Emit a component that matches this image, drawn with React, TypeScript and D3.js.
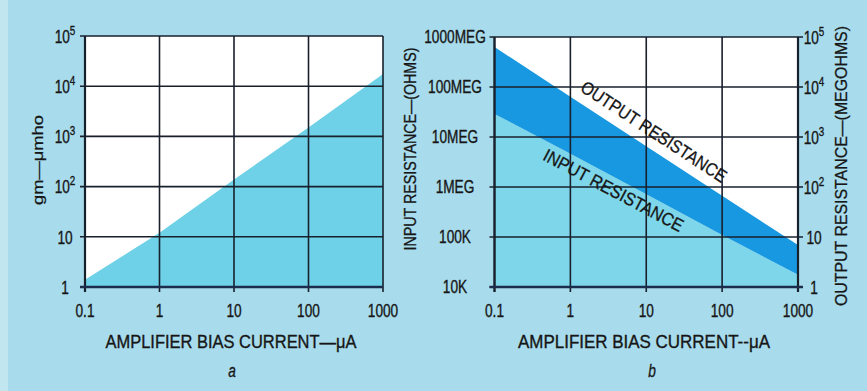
import React from 'react';
import * as d3 from 'd3';

// ---- data ----
const biasCurrent = [0.1, 1, 10, 100, 1000];
const gmValues = [1.4, 12, 138, 1500, 17400];
const outputResMeg = [63000, 6400, 650, 67, 6.9];
const inputResOhms = [2.9e7, 4.6e6, 7.2e5, 1.1e5, 1.75e4];

const xTicks = [0.1, 1, 10, 100, 1000];
const xTickLabels = ['0.1', '1', '10', '100', '1000'];
const gmTicks = [1, 10, 100, 1e3, 1e4, 1e5];
const gmTickLabels: [string, string][] = [['1', ''], ['10', ''], ['10', '2'], ['10', '3'], ['10', '4'], ['10', '5']];
const inTicks = [1e4, 1e5, 1e6, 1e7, 1e8, 1e9];
const inTickLabels = ['10K', '100K', '1MEG', '10MEG', '100MEG', '1000MEG'];
const outTicks = [1, 10, 100, 1e3, 1e4, 1e5];
const outTickLabels: [string, string][] = [['1', ''], ['10', ''], ['10', '2'], ['10', '3'], ['10', '4'], ['10', '5']];

const W = 867, H = 391;
const BG = '#a8dcec';
const FILL_A = '#6fd1e7';
const FILL_LIGHT = '#7dd6ea';
const FILL_DARK = '#1798e0';
const GRID = '#18202c';
const TXT = '#161616';
const FONT = '"Liberation Sans", Arial, Helvetica, sans-serif';
const SX = 0.76;
const TS = 0.35; // slight stroke to mimic printed weight

const CText = ({ x, y, size = 18, anchor = 'middle', italic = false, children }: any) => (
  <text transform={`translate(${x},${y}) scale(${SX},1)`} textAnchor={anchor} dominantBaseline="central"
    fontSize={size} fontStyle={italic ? 'italic' : 'normal'} fill={TXT} stroke={TXT} strokeWidth={TS} fontFamily={FONT}>
    {children}
  </text>
);

const Sup = ({ x, y, base, sup }: any) => (
  <CText x={x} y={y}>
    <tspan>{base}</tspan>
    {sup ? <tspan dy={-6} fontSize={13}>{sup}</tspan> : null}
  </CText>
);

export default function App() {
  // chart a
  const xA = d3.scaleLog().domain([0.1, 1000]).range([85, 383]);
  const yA = d3.scaleLog().domain([1, 1e5]).range([287, 36]);
  // chart b
  const xB = d3.scaleLog().domain([0.1, 1000]).range([494.5, 798]);
  const yIn = d3.scaleLog().domain([1e4, 1e9]).range([287, 37]);
  const yOut = d3.scaleLog().domain([1, 1e5]).range([287, 37]);

  const areaA = d3.area<number>()
    .x((d, i) => xA(biasCurrent[i]))
    .y0(() => yA(1))
    .y1((d) => yA(d))(gmValues) as string;

  const areaLight = d3.area<number>()
    .x((d, i) => xB(biasCurrent[i]))
    .y0(() => yIn(1e4))
    .y1((d) => yIn(d))(inputResOhms) as string;

  const areaDark = d3.area<number>()
    .x((d, i) => xB(biasCurrent[i]))
    .y0((d, i) => yIn(inputResOhms[i]))
    .y1((d) => yOut(d))(outputResMeg) as string;

  // labels along lines
  const n = biasCurrent.length - 1;
  const outP0 = [xB(biasCurrent[0]), yOut(outputResMeg[0])];
  const outP1 = [xB(biasCurrent[n]), yOut(outputResMeg[n])];
  const outAng = Math.atan2(outP1[1] - outP0[1], outP1[0] - outP0[0]);
  const inP0 = [xB(biasCurrent[0]), yIn(inputResOhms[0])];
  const inP1 = [xB(biasCurrent[n]), yIn(inputResOhms[n])];
  const inAng = Math.atan2(inP1[1] - inP0[1], inP1[0] - inP0[0]);

  const outLabelX = 645;
  const outLineY = outP0[1] + (outLabelX - outP0[0]) * Math.tan(outAng);
  const inLabelX = 619;
  const inLineY = inP0[1] + (inLabelX - inP0[0]) * Math.tan(inAng);
  const outCx = outLabelX + 16 * Math.sin(outAng);
  const outCy = outLineY - 16 * Math.cos(outAng);
  const inCx = inLabelX - 12 * Math.sin(inAng);
  const inCy = inLineY + 12 * Math.cos(inAng);

  const [a0, a1] = xA.range();
  const [aB, aT] = yA.range();
  const [b0, b1] = xB.range();
  const [bB, bT] = yIn.range();

  return (
    <svg width={W} height={H} style={{ position: 'absolute', left: 0, top: 0 }} fontFamily={FONT}>
      <rect x={0} y={0} width={W} height={H} fill={BG} />
      <rect x={0} y={0} width={8} height={H} fill="#c2e6f0" />

      {/* ---------- chart a ---------- */}
      <rect x={a0} y={aT} width={a1 - a0} height={aB - aT} fill="#ffffff" />
      <path d={areaA} fill={FILL_A} />
      {gmTicks.map((t, i) => (
        <line key={'ah' + i} x1={a0 - 5} x2={a1} y1={yA(t)} y2={yA(t)} stroke={GRID} strokeWidth={1.6} />
      ))}
      {xTicks.map((t, i) => (
        <line key={'av' + i} x1={xA(t)} x2={xA(t)} y1={aT} y2={aB + 5} stroke={GRID} strokeWidth={1.6} />
      ))}
      <line x1={a0} x2={a0} y1={aT} y2={aB + 5} stroke={GRID} strokeWidth={2.2} />
      <line x1={a0 - 5} x2={a1} y1={aB} y2={aB} stroke="#1c2c4c" strokeWidth={2.4} />
      {gmTicks.map((t, i) => (
        <Sup key={'al' + i} x={65} y={yA(t)} base={gmTickLabels[i][0]} sup={gmTickLabels[i][1]} />
      ))}
      {xTicks.map((t, i) => (
        <CText key={'ax' + i} x={xA(t)} y={311}>{xTickLabels[i]}</CText>
      ))}
      <text x={231} y={342} textAnchor="middle" dominantBaseline="central" fontSize={18} fill={TXT} stroke={TXT} strokeWidth={TS}
        textLength={251} lengthAdjust="spacingAndGlyphs">AMPLIFIER BIAS CURRENT—μA</text>
      <CText x={232} y={371} italic>a</CText>
      <text transform={`translate(37,160) rotate(-90)`} textAnchor="middle" dominantBaseline="central" fontSize={15} fill={TXT}
        stroke={TXT} strokeWidth={0.25} textLength={90} lengthAdjust="spacingAndGlyphs">gm—μmho</text>

      {/* ---------- chart b ---------- */}
      <rect x={b0} y={bT} width={b1 - b0} height={bB - bT} fill="#ffffff" />
      <path d={areaLight} fill={FILL_LIGHT} />
      <path d={areaDark} fill={FILL_DARK} />
      {inTicks.map((t, i) => (
        <line key={'bh' + i} x1={b0 - 5} x2={b1 + 5} y1={yIn(t)} y2={yIn(t)} stroke={GRID} strokeWidth={1.6} />
      ))}
      {xTicks.map((t, i) => (
        <line key={'bv' + i} x1={xB(t)} x2={xB(t)} y1={bT} y2={bB + 5} stroke={GRID} strokeWidth={1.6} />
      ))}
      <line x1={b0} x2={b0} y1={bT} y2={bB + 5} stroke={GRID} strokeWidth={2.2} />
      <line x1={b1} x2={b1} y1={bT} y2={bB + 5} stroke={GRID} strokeWidth={2.2} />
      <line x1={b0 - 5} x2={b1 + 5} y1={bB} y2={bB} stroke="#1c2c4c" strokeWidth={2.4} />
      {inTicks.map((t, i) => (
        <CText key={'bl' + i} x={455} y={yIn(t)}>{inTickLabels[i]}</CText>
      ))}
      {outTicks.map((t, i) => (
        <Sup key={'br' + i} x={814} y={yOut(t)} base={outTickLabels[i][0]} sup={outTickLabels[i][1]} />
      ))}
      {xTicks.map((t, i) => (
        <CText key={'bx' + i} x={xB(t)} y={311}>{xTickLabels[i]}</CText>
      ))}
      <text x={644} y={342} textAnchor="middle" dominantBaseline="central" fontSize={18} fill={TXT} stroke={TXT} strokeWidth={TS}
        textLength={252} lengthAdjust="spacingAndGlyphs">AMPLIFIER BIAS CURRENT--μA</text>
      <CText x={652} y={371} italic>b</CText>
      <text transform={`translate(410,149) rotate(-90)`} textAnchor="middle" dominantBaseline="central" fontSize={16} fill={TXT}
        stroke={TXT} strokeWidth={0.3} textLength={203} lengthAdjust="spacingAndGlyphs">INPUT RESISTANCE—(OHMS)</text>
      <text transform={`translate(841,166) rotate(-90)`} textAnchor="middle" dominantBaseline="central" fontSize={17} fill={TXT}
        stroke={TXT} strokeWidth={0.3} textLength={280} lengthAdjust="spacingAndGlyphs">OUTPUT RESISTANCE—(MEGOHMS)</text>

      <text transform={`translate(${outCx},${outCy}) rotate(${(outAng * 180) / Math.PI})`} textAnchor="middle"
        dominantBaseline="central" fontSize={18} fill={TXT} stroke={TXT} strokeWidth={0.3} textLength={170} lengthAdjust="spacingAndGlyphs">
        OUTPUT RESISTANCE
      </text>
      <text transform={`translate(${inCx},${inCy}) rotate(${(inAng * 180) / Math.PI})`} textAnchor="middle"
        dominantBaseline="central" fontSize={18} fill={TXT} stroke={TXT} strokeWidth={0.3} textLength={156} lengthAdjust="spacingAndGlyphs">
        INPUT RESISTANCE
      </text>
    </svg>
  );
}
